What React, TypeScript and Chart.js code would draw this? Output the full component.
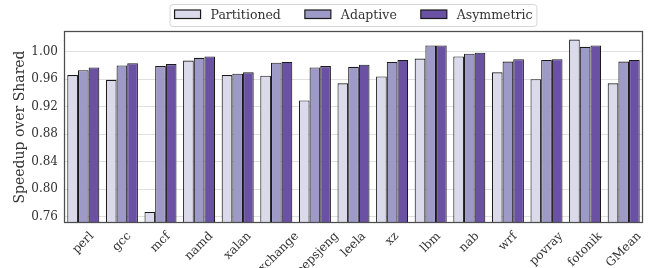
import React, { useEffect, useRef } from 'react';
import { Chart, registerables } from 'chart.js';

Chart.register(...registerables);

const categories = ['perl', 'gcc', 'mcf', 'namd', 'xalan', 'exchange', 'deepsjeng', 'leela', 'xz', 'lbm', 'nab', 'wrf', 'povray', 'fotonik', 'GMean'];
const partitioned = [0.966, 0.959, 0.767, 0.987, 0.966, 0.965, 0.929, 0.954, 0.964, 0.990, 0.993, 0.970, 0.960, 1.0175, 0.954];
const adaptive = [0.973, 0.980, 0.979, 0.991, 0.968, 0.984, 0.977, 0.978, 0.985, 1.009, 0.997, 0.9855, 0.988, 1.007, 0.9855];
const asymmetric = [0.977, 0.983, 0.982, 0.993, 0.970, 0.985, 0.979, 0.981, 0.988, 1.009, 0.9985, 0.989, 0.989, 1.009, 0.988];
const yTicks = [0.76, 0.80, 0.84, 0.88, 0.92, 0.96, 1.00];
const yMin = 0.751;
const yMax = 1.030;
const seriesNames = ['Partitioned', 'Adaptive', 'Asymmetric'];
const seriesColors = ['#dadaeb', '#9e9ac8', '#6a51a3'];
const yTitle = 'Speedup over Shared';

const FONT = '"DejaVu Serif", serif';
const TEXT = '#333333';

const decorPlugin = {
  id: 'decor',
  afterDraw(chart: any) {
    const ctx = chart.ctx as CanvasRenderingContext2D;
    const ca = chart.chartArea;
    ctx.save();
    // frame
    ctx.strokeStyle = '#4d4d4d';
    ctx.lineWidth = 1.25;
    const l = Math.round(ca.left) + 0.5;
    const t = Math.round(ca.top) + 0.5;
    const r = Math.round(ca.right) - 0.5;
    const b = Math.round(ca.bottom) - 0.5;
    ctx.strokeRect(l, t, r - l, b - t);

    // x labels (rotated 45deg, centered on tick)
    const xs = chart.scales.x;
    ctx.font = `12px ${FONT}`;
    ctx.fillStyle = TEXT;
    ctx.textAlign = 'center';
    ctx.textBaseline = 'middle';
    const ang = Math.PI / 4;
    categories.forEach((c, i) => {
      const px = xs.getPixelForValue(i);
      const w = ctx.measureText(c).width;
      const h = 11;
      const bb = (w + h) * Math.sin(ang);
      const cy = ca.bottom + 7.5 + bb / 2;
      ctx.save();
      ctx.translate(px, cy);
      ctx.rotate(-ang);
      ctx.fillText(c, 0, 0);
      ctx.restore();
    });

    // legend
    ctx.font = `12.5px ${FONT}`;
    const swW = 26, swH = 8.5, gapSw = 10, gapItem = 24, padX = 4.5;
    const widths = seriesNames.map((n) => ctx.measureText(n).width);
    let total = padX * 2;
    widths.forEach((w, i) => { total += swW + gapSw + w + (i < widths.length - 1 ? gapItem : 0); });
    const cx = (ca.left + ca.right) / 2;
    const fx = cx - total / 2;
    const fy = 4.5, fh = 22;
    ctx.beginPath();
    const rad = 3;
    ctx.moveTo(fx + rad, fy);
    ctx.arcTo(fx + total, fy, fx + total, fy + fh, rad);
    ctx.arcTo(fx + total, fy + fh, fx, fy + fh, rad);
    ctx.arcTo(fx, fy + fh, fx, fy, rad);
    ctx.arcTo(fx, fy, fx + total, fy, rad);
    ctx.closePath();
    ctx.fillStyle = '#ffffff';
    ctx.fill();
    ctx.strokeStyle = '#d6d6d6';
    ctx.lineWidth = 1;
    ctx.stroke();
    let x = fx + padX;
    seriesNames.forEach((n, i) => {
      ctx.fillStyle = seriesColors[i];
      ctx.fillRect(x, 10, swW, swH);
      ctx.strokeStyle = '#1a1a1a';
      ctx.lineWidth = 1.2;
      ctx.strokeRect(x, 10, swW, swH);
      x += swW + gapSw;
      ctx.fillStyle = TEXT;
      ctx.textAlign = 'left';
      ctx.textBaseline = 'middle';
      ctx.fillText(n, x, 15.5);
      x += widths[i] + gapItem;
    });
    ctx.restore();
  },
};

export default function App() {
  const ref = useRef<HTMLCanvasElement | null>(null);
  useEffect(() => {
    if (!ref.current) return;
    const datasets = [partitioned, adaptive, asymmetric].map((d, i) => ({
      label: seriesNames[i],
      data: d,
      backgroundColor: seriesColors[i],
      borderColor: '#1a1a1a',
      borderWidth: 1.1,
      categoryPercentage: 0.83,
      barPercentage: 1.0,
    }));
    const chart = new Chart(ref.current, {
      type: 'bar',
      data: { labels: categories, datasets },
      options: {
        animation: false,
        responsive: false,
        devicePixelRatio: 1,
        layout: { padding: { top: 31, right: 8, left: 0, bottom: 0 } },
        plugins: { legend: { display: false }, tooltip: { enabled: false } },
        scales: {
          x: {
            grid: { display: false, drawTicks: false },
            border: { display: false },
            ticks: { display: false },
            afterFit: (s: any) => { s.height = 45; },
          },
          y: {
            min: yMin,
            max: yMax,
            grid: { color: '#e0e0e0', lineWidth: 1, drawTicks: false },
            border: { display: false },
            ticks: {
              font: { family: FONT, size: 12 },
              color: TEXT,
              padding: 6,
              callback: (v: any) => Number(v).toFixed(2),
            },
            afterBuildTicks: (s: any) => { s.ticks = yTicks.map((v) => ({ value: v })); },
            afterFit: (s: any) => { s.width = 64; },
            title: {
              display: true,
              text: yTitle,
              font: { family: FONT, size: 14 },
              color: TEXT,
              padding: { top: 12, bottom: 0 },
            },
          },
        },
      },
      plugins: [decorPlugin],
    });
    return () => chart.destroy();
  }, []);
  return (
    <div style={{ position: 'fixed', left: 0, top: 0, width: 651, height: 268, background: '#fff' }}>
      <canvas ref={ref} width={651} height={268} style={{ width: 651, height: 268, display: 'block' }} />
    </div>
  );
}
